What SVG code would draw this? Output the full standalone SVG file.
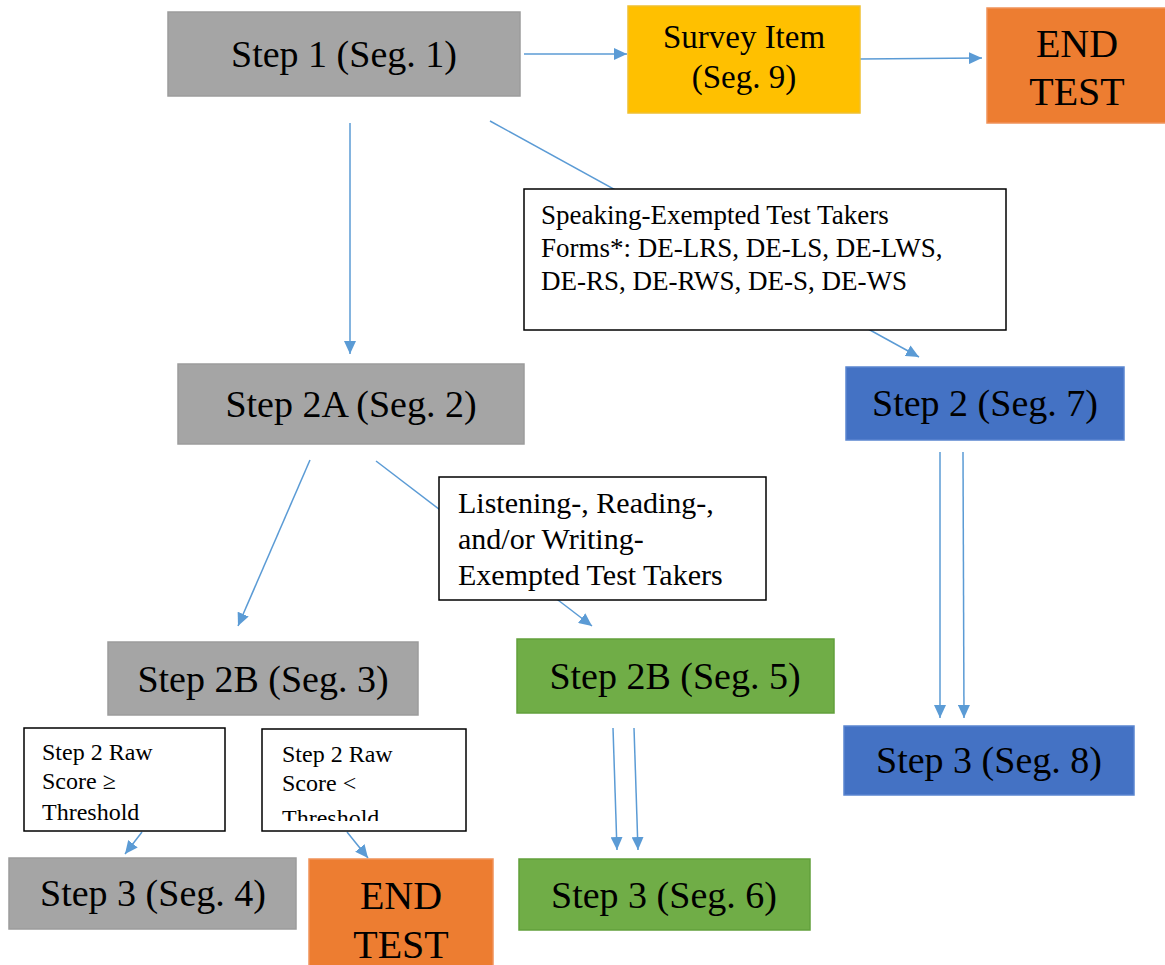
<svg xmlns="http://www.w3.org/2000/svg" width="1165" height="965" viewBox="0 0 1165 965" font-family="'Liberation Serif', 'DejaVu Serif', serif">
<style>
text{font-family:'Liberation Serif','DejaVu Serif',serif;fill:#000}
.big{font-size:38px;text-anchor:middle}
.mid{font-size:33px;text-anchor:middle}
.end{font-size:40px;text-anchor:middle}
.lab{font-size:27px}
.lab2{font-size:30px}
.small{font-size:24px}
.gray{fill:#a5a5a5;stroke:#9c9c9c;stroke-width:1.5}
.green{fill:#70ad47;stroke:#62a03b;stroke-width:1.5}
.blue{fill:#4472c4;stroke:#5a85d0;stroke-width:1.5}
.orange{fill:#ed7d31;stroke:#f0925a;stroke-width:1.5}
.gold{fill:#ffc000;stroke:#f0c030;stroke-width:1.5}
.note{fill:#fff;stroke:#000;stroke-width:1.5}
.conn{stroke:#5b9bd5;stroke-width:1.5;fill:none;marker-end:url(#ah)}
</style>
<defs>
<marker id="ah" markerUnits="userSpaceOnUse" markerWidth="14" markerHeight="12" refX="13" refY="6" orient="auto">
<path d="M0,0 L13,6 L0,12 z" fill="#5b9bd5"/>
</marker>
<clipPath id="clipR"><rect x="262" y="729" width="204" height="92"/></clipPath>
</defs>
<rect width="1165" height="965" fill="#fff"/>
<g id="connectors">
<line class="conn" x1="524" y1="54" x2="627" y2="54"/>
<line class="conn" x1="860" y1="59" x2="982" y2="58"/>
<line class="conn" x1="350" y1="123" x2="350" y2="354"/>
<line class="conn" x1="490" y1="121" x2="919" y2="357"/>
<line class="conn" x1="310" y1="460" x2="238" y2="626"/>
<line class="conn" x1="376" y1="461" x2="592" y2="626"/>
<line class="conn" x1="940" y1="452" x2="940" y2="718"/>
<line class="conn" x1="963" y1="452" x2="964" y2="718"/>
<line class="conn" x1="613" y1="728" x2="617" y2="850"/>
<line class="conn" x1="634" y1="728" x2="638" y2="850"/>
<line class="conn" x1="142" y1="832" x2="125" y2="854"/>
<line class="conn" x1="347" y1="832" x2="368" y2="858"/>
</g>
<g id="step1"><rect class="gray" x="168" y="12" width="352" height="84"/><text class="big" x="344" y="67">Step 1 (Seg. 1)</text></g>
<g id="survey"><rect class="gold" x="628" y="6" width="232" height="107"/><text class="mid" x="744" y="48">Survey Item</text><text class="mid" x="744" y="88">(Seg. 9)</text></g>
<g id="end1"><rect class="orange" x="987" y="8" width="180" height="115"/><text class="end" x="1077" y="57">END</text><text class="end" x="1077" y="105">TEST</text></g>
<g id="speaking"><rect class="note" x="524" y="189" width="482" height="141"/>
<text class="lab" x="541" y="224">Speaking-Exempted Test Takers</text>
<text class="lab" x="541" y="257">Forms*: DE-LRS, DE-LS, DE-LWS,</text>
<text class="lab" x="541" y="290">DE-RS, DE-RWS, DE-S, DE-WS</text></g>
<g id="step2a"><rect class="gray" x="178" y="364" width="346" height="80"/><text class="big" x="351" y="417">Step 2A (Seg. 2)</text></g>
<g id="step2"><rect class="blue" x="846" y="367" width="278" height="73"/><text class="big" x="985" y="416">Step 2 (Seg. 7)</text></g>
<g id="listening"><rect class="note" x="439" y="477" width="327" height="123"/>
<text class="lab2" x="458" y="513">Listening-, Reading-,</text>
<text class="lab2" x="458" y="549">and/or Writing-</text>
<text class="lab2" x="458" y="585">Exempted Test Takers</text></g>
<g id="step2b3"><rect class="gray" x="108" y="642" width="310" height="73"/><text class="big" x="263" y="692">Step 2B (Seg. 3)</text></g>
<g id="step2b5"><rect class="green" x="517" y="639" width="317" height="74"/><text class="big" x="675" y="689">Step 2B (Seg. 5)</text></g>
<g id="step3s8"><rect class="blue" x="844" y="726" width="290" height="69"/><text class="big" x="989" y="773">Step 3 (Seg. 8)</text></g>
<g id="rawge"><rect class="note" x="24" y="728" width="201" height="103"/>
<text class="small" x="42" y="760">Step 2 Raw</text>
<text class="small" x="42" y="789">Score ≥</text>
<text class="small" x="42" y="820">Threshold</text></g>
<g id="rawlt"><rect class="note" x="262" y="729" width="204" height="102"/>
<g clip-path="url(#clipR)">
<text class="small" x="282" y="762">Step 2 Raw</text>
<text class="small" x="282" y="791">Score &lt;</text>
<text class="small" x="282" y="826">Threshold</text></g></g>
<g id="step3s4"><rect class="gray" x="9" y="858" width="287" height="71"/><text class="big" x="153" y="906">Step 3 (Seg. 4)</text></g>
<g id="end2"><rect class="orange" x="309" y="859" width="184" height="110"/><text class="end" x="401" y="909">END</text><text class="end" x="401" y="958">TEST</text></g>
<g id="step3s6"><rect class="green" x="519" y="859" width="291" height="71"/><text class="big" x="664" y="908">Step 3 (Seg. 6)</text></g>
</svg>
